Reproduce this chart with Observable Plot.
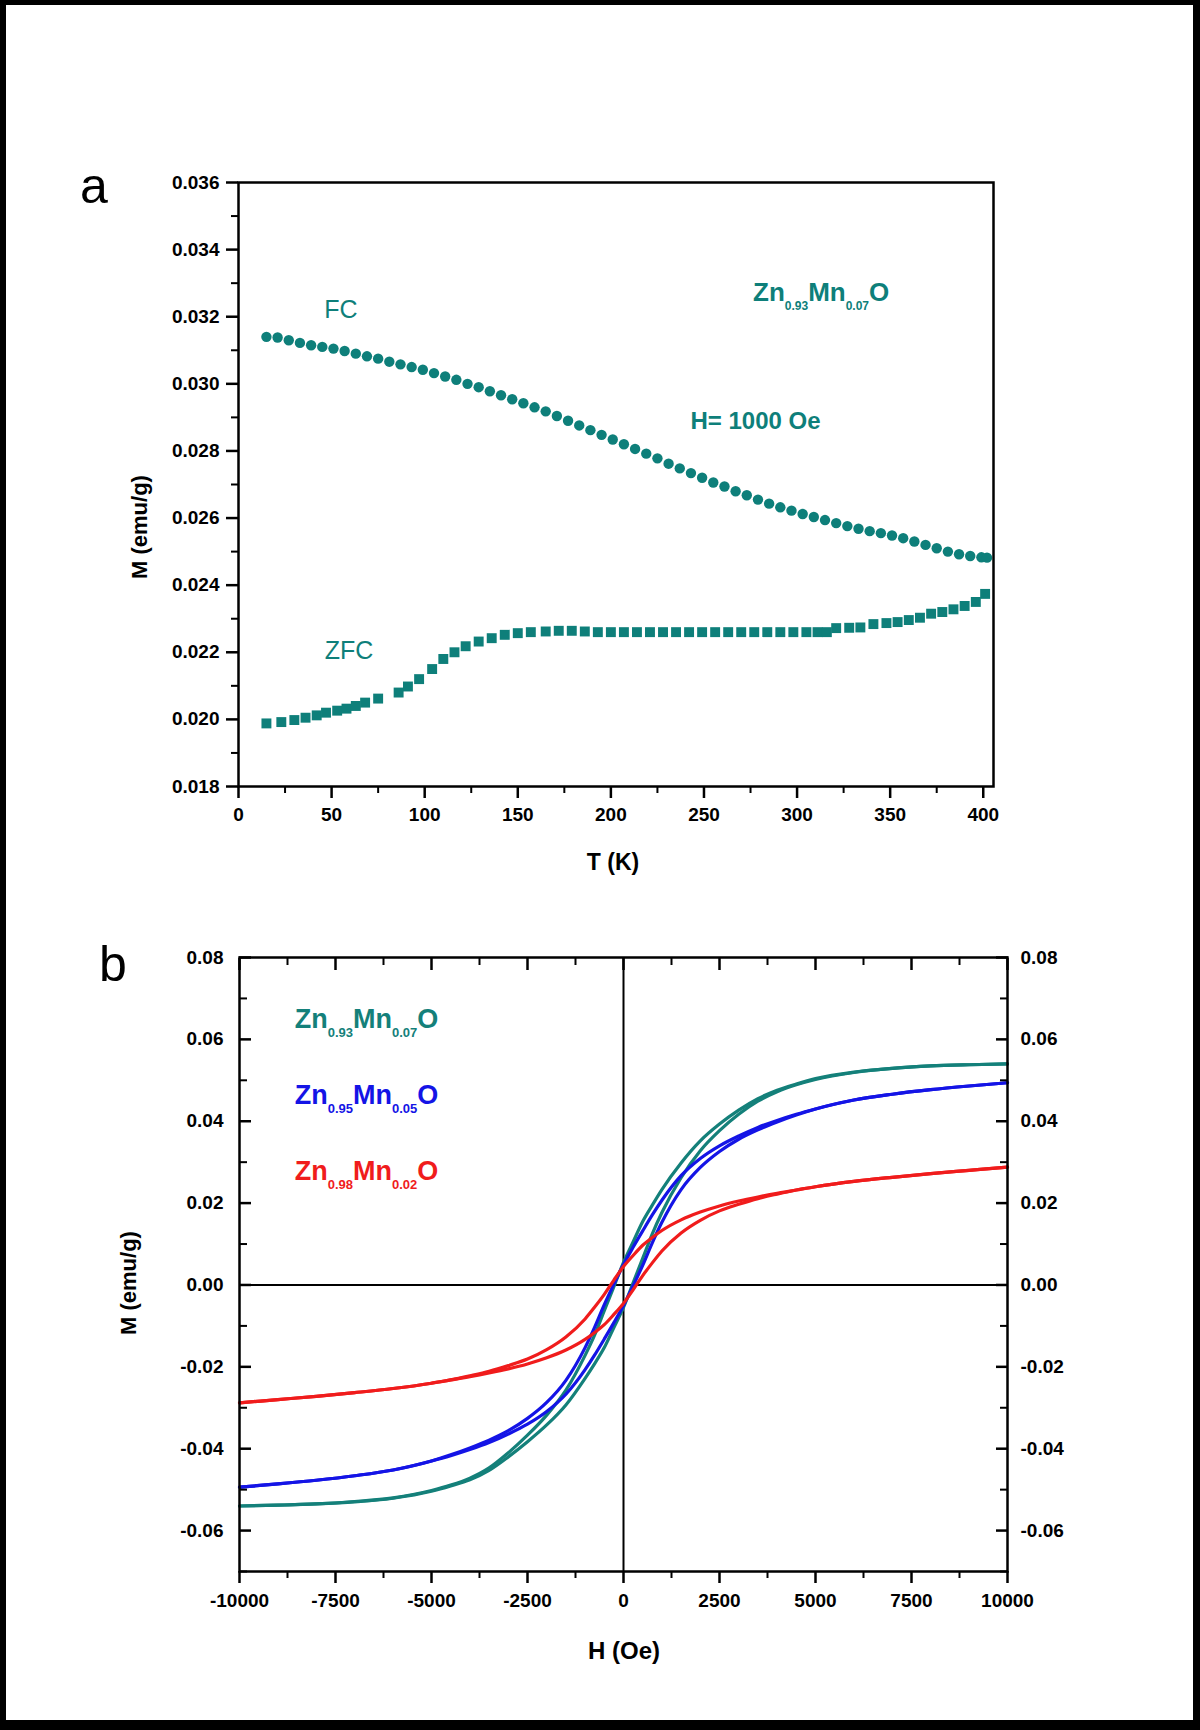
<!DOCTYPE html>
<html>
<head>
<meta charset="utf-8">
<script src="https://cdn.jsdelivr.net/npm/d3@7"></script>
<script src="https://cdn.jsdelivr.net/npm/@observablehq/plot@0.6"></script>
<style>
  html, body { margin: 0; padding: 0; background: #fff; }
  #page { position: relative; width: 1200px; height: 1730px; background: #fff; overflow: hidden;
          font-family: "Liberation Sans", Arial, sans-serif; }
  #page svg { position: absolute; left: 0; overflow: visible; }
  #border { position: absolute; left: 0; top: 0; width: 1200px; height: 1730px; box-sizing: border-box;
            border-style: solid; border-color: #000; border-width: 5px 7px 10px 6px; pointer-events: none; z-index: 5; }
</style>
</head>
<body>
<div id="page"><div id="border"></div></div>
<script>
// ---------------- Panel a : M vs T (FC / ZFC) ----------------
const fcT = [15,21,27,33,39,45,51,57,63,69,75,81,87,93,99,105,111,117,123,129,135,141,147,153,159,165,171,177,183,189,195,201,207,213,219,225,231,237,243,249,255,261,267,273,279,285,291,297,303,309,315,321,327,333,339,345,351,357,363,369,375,381,387,393,399,402];
const fcM = [0.03140,0.03138,0.03130,0.03122,0.03115,0.03110,0.03105,0.03098,0.03090,0.03082,0.03075,0.03066,0.03058,0.03050,0.03042,0.03032,0.03022,0.03012,0.03000,0.02990,0.02978,0.02966,0.02954,0.02942,0.02930,0.02918,0.02904,0.02890,0.02876,0.02862,0.02848,0.02834,0.02820,0.02806,0.02792,0.02778,0.02762,0.02748,0.02734,0.02720,0.02706,0.02694,0.02680,0.02668,0.02655,0.02643,0.02632,0.02622,0.02612,0.02603,0.02594,0.02585,0.02576,0.02568,0.02561,0.02555,0.02548,0.02540,0.02530,0.02520,0.02510,0.02500,0.02492,0.02487,0.02483,0.02482];
const zfcT = [15,23,30,36,42,47,53,58,63,68,75,86,91,97,104,110,116,122,129,136,143,150,157,165,172,179,186,193,200,207,214,221,228,235,242,249,256,263,270,277,284,291,298,305,311,316,321,328,334,341,348,354,360,366,372,378,384,390,396,401];
const zfcM = [0.01988,0.01992,0.01998,0.02005,0.02012,0.02020,0.02026,0.02032,0.02040,0.02050,0.02062,0.02080,0.02098,0.02120,0.02150,0.02180,0.02200,0.02218,0.02232,0.02242,0.02252,0.02257,0.02260,0.02262,0.02264,0.02264,0.02262,0.02260,0.02260,0.02260,0.02260,0.02260,0.02260,0.02260,0.02260,0.02260,0.02260,0.02260,0.02260,0.02260,0.02260,0.02260,0.02260,0.02260,0.02260,0.02260,0.02272,0.02273,0.02274,0.02284,0.02287,0.02290,0.02296,0.02303,0.02315,0.02320,0.02328,0.02338,0.02350,0.02374];
const aXTicks = [0,50,100,150,200,250,300,350,400];
const aXMinor = [25,75,125,175,225,275,325,375];
const aYTicks = [0.018,0.020,0.022,0.024,0.026,0.028,0.030,0.032,0.034,0.036];
const aYMinor = [0.019,0.021,0.023,0.025,0.027,0.029,0.031,0.033,0.035];

// ---------------- Panel b : hysteresis loops ----------------
const hField = [-10000,-9000,-8000,-7000,-6000,-5000,-4500,-4000,-3500,-3000,-2500,-2000,-1500,-1000,-750,-500,-250,0,250,500,750,1000,1500,2000,2500,3000,3500,4000,4500,5000,6000,7000,8000,9000,10000];
const teal07Down = [-0.0540,-0.0538,-0.0535,-0.0529,-0.0520,-0.0502,-0.0489,-0.0472,-0.0447,-0.0410,-0.0367,-0.0318,-0.0257,-0.0172,-0.0122,-0.0063,-0.0004,0.0055,0.0105,0.0155,0.0195,0.0233,0.0298,0.0352,0.0393,0.0427,0.0455,0.0476,0.0491,0.0504,0.0520,0.0529,0.0535,0.0538,0.0540];
const teal07Up   = [-0.0540,-0.0538,-0.0535,-0.0530,-0.0521,-0.0504,-0.0491,-0.0476,-0.0453,-0.0420,-0.0383,-0.0342,-0.0293,-0.0228,-0.0192,-0.0153,-0.0104,-0.0055,0.0005,0.0065,0.0125,0.0177,0.0262,0.0328,0.0377,0.0417,0.0449,0.0472,0.0489,0.0502,0.0519,0.0529,0.0535,0.0538,0.0540];
const blue05Down = [-0.0494,-0.0486,-0.0477,-0.0466,-0.0452,-0.0430,-0.0415,-0.0398,-0.0379,-0.0356,-0.0326,-0.0287,-0.0233,-0.0153,-0.0103,-0.0048,0.0002,0.0050,0.0092,0.0132,0.0171,0.0207,0.0267,0.0309,0.0340,0.0364,0.0385,0.0402,0.0417,0.0430,0.0452,0.0466,0.0477,0.0486,0.0494];
const blue05Up   = [-0.0494,-0.0486,-0.0477,-0.0466,-0.0452,-0.0430,-0.0417,-0.0402,-0.0385,-0.0364,-0.0340,-0.0309,-0.0267,-0.0207,-0.0171,-0.0132,-0.0092,-0.0050,-0.0002,0.0048,0.0103,0.0153,0.0233,0.0287,0.0326,0.0356,0.0379,0.0398,0.0415,0.0430,0.0452,0.0466,0.0477,0.0486,0.0494];
const red02Down  = [-0.0288,-0.0280,-0.0272,-0.0263,-0.0253,-0.0240,-0.0232,-0.0222,-0.0211,-0.0197,-0.0181,-0.0158,-0.0127,-0.0083,-0.0054,-0.0023,0.0012,0.0045,0.0072,0.0097,0.0116,0.0133,0.0159,0.0178,0.0193,0.0205,0.0215,0.0224,0.0232,0.0240,0.0253,0.0263,0.0272,0.0280,0.0288];
const red02Up    = [-0.0288,-0.0280,-0.0272,-0.0263,-0.0253,-0.0240,-0.0232,-0.0224,-0.0215,-0.0205,-0.0193,-0.0178,-0.0159,-0.0133,-0.0116,-0.0097,-0.0072,-0.0045,-0.0012,0.0023,0.0054,0.0083,0.0127,0.0158,0.0181,0.0197,0.0211,0.0222,0.0232,0.0240,0.0253,0.0263,0.0272,0.0280,0.0288];
const bXTicks = [-10000,-7500,-5000,-2500,0,2500,5000,7500,10000];
const bXMinor = [-8750,-6250,-3750,-1250,1250,3750,6250,8750];
const bYTicks = [-0.06,-0.04,-0.02,0.00,0.02,0.04,0.06,0.08];
const bYMinor = [-0.07,-0.05,-0.03,-0.01,0.01,0.03,0.05,0.07];

const sampleNames = [["Zn","0.93","Mn","0.07","O"],["Zn","0.95","Mn","0.05","O"],["Zn","0.98","Mn","0.02","O"]];
const sampleColors = ["#14807a","#1414e6","#f01c1c"];
const sampleLabelH = [-8550,-8550,-8550];
const sampleLabelM = [0.0627,0.0441,0.0254];

const TEAL = "#0e7f7a";
const FONT = "'Liberation Sans', Arial, sans-serif";
const page = document.getElementById("page");
const hy = s => s.replace(/\u2212/g, "-");
const fmt3 = d => hy(d3.format(".3f")(d));
const fmt2 = d => hy(d3.format(".2f")(d));
const fmtD = d => hy(d3.format("d")(d));

function addText(svg, x, y, str, opts = {}) {
  const t = d3.select(svg).append("text").attr("x", x).attr("y", y).text(str)
    .attr("font-family", FONT).attr("font-size", opts.size || 22)
    .attr("font-weight", opts.weight || "bold").attr("fill", opts.fill || "#000")
    .attr("text-anchor", opts.anchor || "start");
  if (opts.middle) t.attr("dominant-baseline", "middle");
  if (opts.rotate) t.attr("transform", `rotate(-90 ${x} ${y})`);
  return t;
}
function addFormula(svg, x, y, parts, color, size, subSize) {
  const t = d3.select(svg).append("text").attr("x", x).attr("y", y).attr("text-anchor", "start")
    .attr("font-family", FONT).attr("font-weight", "bold").attr("fill", color).attr("font-size", size);
  parts.forEach((p, i) => {
    const sub = i % 2 === 1;
    const ts = t.append("tspan").text(p);
    if (sub) ts.attr("font-size", subSize).attr("dy", 9);
    else if (i > 0) ts.attr("dy", -9);
  });
}

// ---- Plot a ----
const fcData = fcT.map((t, i) => ({T: t, M: fcM[i]}));
const zfcData = zfcT.map((t, i) => ({T: t, M: zfcM[i]}));
const tickFont = {fontSize: 19, fontWeight: "bold", fontFamily: FONT};

const plotA = Plot.plot({
  width: 1200, height: 900,
  marginLeft: 238, marginRight: 207, marginTop: 182, marginBottom: 114,
  style: {background: "transparent", fontFamily: FONT, color: "#000"},
  x: {domain: [0, 405.5], label: null},
  y: {domain: [0.018, 0.036], label: null},
  marks: [
    Plot.dot(zfcData, {x: "T", y: "M", symbol: "square", r: 5.6, fill: TEAL}),
    Plot.dot(fcData, {x: "T", y: "M", r: 5.2, fill: TEAL}),
    Plot.axisY(aYMinor, {anchor: "left", tickSize: 7, text: null, strokeWidth: 2, label: null}),
    Plot.axisY(aYTicks, {anchor: "left", tickSize: 12, tickPadding: 7, strokeWidth: 2.5, tickFormat: fmt3, label: null, ...tickFont}),
    Plot.axisX(aXMinor, {anchor: "bottom", tickSize: 7, text: null, strokeWidth: 2, label: null}),
    Plot.axisX(aXTicks, {anchor: "bottom", tickSize: 12, tickPadding: 9, strokeWidth: 2.5, tickFormat: fmtD, label: null, ...tickFont}),
    Plot.frame({stroke: "#000", strokeWidth: 2.5})
  ]
});
plotA.style.top = "0px";
page.appendChild(plotA);
{
  const sx = plotA.scale("x"), sy = plotA.scale("y");
  addText(plotA, 141, 527, "M (emu/g)", {size: 22, rotate: true, anchor: "middle", middle: true});
  addText(plotA, 613, 864, "T (K)", {size: 23, anchor: "middle", middle: true});
  addText(plotA, 80, 203, "a", {size: 50, weight: "normal"});
  addText(plotA, sx.apply(55.3), sy.apply(0.03215), "FC", {size: 25, weight: "normal", fill: TEAL, anchor: "middle", middle: true});
  addText(plotA, sx.apply(59.6), sy.apply(0.02198), "ZFC", {size: 25, weight: "normal", fill: TEAL, anchor: "middle", middle: true});
  addText(plotA, sx.apply(243), sy.apply(0.02882), "H= 1000 Oe", {size: 24, fill: TEAL, middle: true});
  addFormula(plotA, sx.apply(276.6), sy.apply(0.03244), sampleNames[0], TEAL, 26, 12);
}

// ---- Plot b ----
const series = [
  {name: "x0.07", down: teal07Down, up: teal07Up, color: sampleColors[0]},
  {name: "x0.05", down: blue05Down, up: blue05Up, color: sampleColors[1]},
  {name: "x0.02", down: red02Down, up: red02Up, color: sampleColors[2]}
];
const loopMarks = [];
for (const s of series) {
  for (const vals of [s.down, s.up]) {
    const data = hField.map((h, i) => ({H: h, M: vals[i]}));
    loopMarks.push(Plot.line(data, {x: "H", y: "M", stroke: s.color, strokeWidth: 3.2, curve: "monotone-x"}));
  }
}

const plotB = Plot.plot({
  width: 1200, height: 860,
  marginLeft: 239, marginRight: 193, marginTop: 87, marginBottom: 159,
  style: {background: "transparent", fontFamily: FONT, color: "#000"},
  x: {domain: [-10000, 10000], label: null},
  y: {domain: [-0.07, 0.08], label: null},
  marks: [
    Plot.ruleY([0], {stroke: "#000", strokeWidth: 2}),
    Plot.ruleX([0], {stroke: "#000", strokeWidth: 2}),
    ...loopMarks,
    Plot.axisY(bYMinor, {anchor: "left", tickSize: 8, dx: 8, text: null, strokeWidth: 2, label: null}),
    Plot.axisY(bYTicks, {anchor: "left", tickSize: 12, dx: 12, text: null, strokeWidth: 2.5, label: null}),
    Plot.axisY(bYTicks, {anchor: "left", tickSize: 0, tickPadding: 16, tickFormat: fmt2, label: null, ...tickFont}),
    Plot.axisY(bYMinor, {anchor: "right", tickSize: 8, dx: -8, text: null, strokeWidth: 2, label: null}),
    Plot.axisY(bYTicks, {anchor: "right", tickSize: 12, dx: -12, text: null, strokeWidth: 2.5, label: null}),
    Plot.axisY(bYTicks, {anchor: "right", tickSize: 0, tickPadding: 13, tickFormat: fmt2, label: null, ...tickFont}),
    Plot.axisX(bXMinor, {anchor: "bottom", tickSize: 7, text: null, strokeWidth: 2, label: null}),
    Plot.axisX(bXTicks, {anchor: "bottom", tickSize: 12, tickPadding: 10, strokeWidth: 2.5, tickFormat: fmtD, label: null, ...tickFont}),
    Plot.axisX(bXMinor, {anchor: "top", tickSize: 7, dy: 7, text: null, strokeWidth: 2, label: null}),
    Plot.axisX(bXTicks, {anchor: "top", tickSize: 12, dy: 12, text: null, strokeWidth: 2.5, label: null}),
    Plot.frame({stroke: "#000", strokeWidth: 2.5})
  ]
});
plotB.style.top = "870px";
page.appendChild(plotB);
{
  const sx = plotB.scale("x"), sy = plotB.scale("y");
  addText(plotB, 130, 413, "M (emu/g)", {size: 22, rotate: true, anchor: "middle", middle: true});
  addText(plotB, 624, 783, "H (Oe)", {size: 24, anchor: "middle", middle: true});
  addText(plotB, 99, 111, "b", {size: 50, weight: "normal"});
  sampleNames.forEach((parts, i) => {
    addFormula(plotB, sx.apply(sampleLabelH[i]), sy.apply(sampleLabelM[i]), parts, sampleColors[i], 27, 13);
  });
}
</script>
</body>
</html>
